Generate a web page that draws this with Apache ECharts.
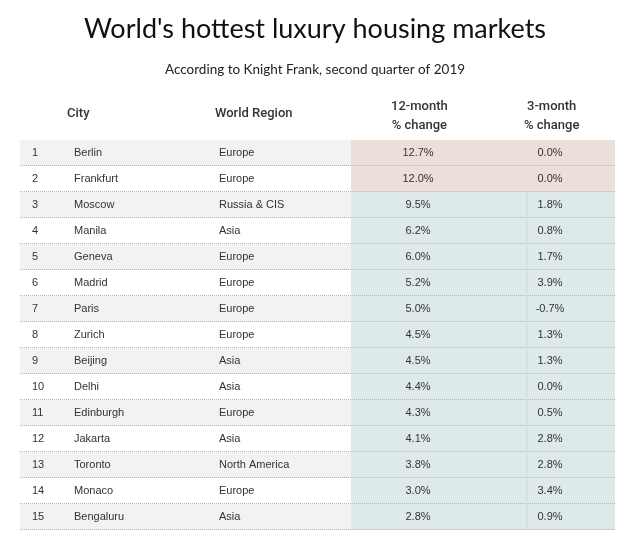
<!DOCTYPE html>
<html>
<head>
<meta charset="utf-8">
<script src="https://cdn.jsdelivr.net/npm/echarts@6/dist/echarts.min.js"></script>
<style>
  html, body { margin: 0; padding: 0; background: #fff; }
  #chart { width: 630px; height: 550px; }
</style>
</head>
<body>
<div id="chart"></div>
<script>
// table data
var ranks = [1, 2, 3, 4, 5, 6, 7, 8, 9, 10, 11, 12, 13, 14, 15];
var cities = ['Berlin', 'Frankfurt', 'Moscow', 'Manila', 'Geneva', 'Madrid', 'Paris', 'Zurich',
  'Beijing', 'Delhi', 'Edinburgh', 'Jakarta', 'Toronto', 'Monaco', 'Bengaluru'];
var regions = ['Europe', 'Europe', 'Russia & CIS', 'Asia', 'Europe', 'Europe', 'Europe', 'Europe',
  'Asia', 'Asia', 'Europe', 'Asia', 'North America', 'Europe', 'Asia'];
var change12 = [12.7, 12.0, 9.5, 6.2, 6.0, 5.2, 5.0, 4.5, 4.5, 4.4, 4.3, 4.1, 3.8, 3.0, 2.8];
var change3 = [0.0, 0.0, 1.8, 0.8, 1.7, 3.9, -0.7, 1.3, 1.3, 0.0, 0.5, 2.8, 2.8, 3.4, 0.9];
var headers = ['City', 'World Region', '12-month\n% change', '3-month\n% change'];

// column layout, pixels from table left edge
var colRank = 12, colCity = 54, colRegion = 199, colA = 331, colB = 507, colEnd = 595;
var textA = 398, textB = 530;

var chart = echarts.init(document.getElementById('chart'));

function fmt(v) { return v.toFixed(1) + '%'; }

function renderRow(params, api) {
  var i = api.value(1);
  var p = api.coord([0, i]);
  var h = api.size([0, 1])[1];
  var x0 = p[0], top = p[1] - h / 2, yc = p[1];
  var hot = change12[i] >= 10;
  var txt = { fill: '#333', fontSize: 11, fontFamily: 'Liberation Sans, Arial, sans-serif', verticalAlign: 'middle' };
  var kids = [
    { type: 'rect', shape: { x: x0, y: top, width: colA, height: h },
      style: { fill: i % 2 === 0 ? '#f2f2f2' : '#ffffff' } },
    { type: 'rect', shape: { x: x0 + colA, y: top, width: colEnd - colA, height: h },
      style: { fill: hot ? '#ecdfd9' : '#dee9ea' } },
    { type: 'line', shape: { x1: x0 + colB, y1: top, x2: x0 + colB, y2: top + h },
      style: { stroke: hot ? 'rgba(0,0,0,0)' : '#cbd7d8', lineWidth: 1 } },
    { type: 'line', shape: { x1: x0, y1: top + h - 0.5, x2: x0 + colEnd, y2: top + h - 0.5 },
      style: { stroke: '#b5b5b5', lineWidth: 1, lineDash: [1, 1] } },
    { type: 'text', style: Object.assign({ x: x0 + colRank, y: yc, text: String(ranks[i]), align: 'left' }, txt) },
    { type: 'text', style: Object.assign({ x: x0 + colCity, y: yc, text: cities[i], align: 'left' }, txt) },
    { type: 'text', style: Object.assign({ x: x0 + colRegion, y: yc, text: regions[i], align: 'left' }, txt) },
    { type: 'text', style: Object.assign({ x: x0 + textA, y: yc, text: fmt(change12[i]), align: 'center' }, txt) },
    { type: 'text', style: Object.assign({ x: x0 + textB, y: yc, text: fmt(change3[i]), align: 'center' }, txt) }
  ];
  return { type: 'group', children: kids };
}

var headStyle = { fill: '#333', fontSize: 13, fontWeight: 500, fontFamily: 'Roboto, sans-serif',
  textAlign: 'center', textVerticalAlign: 'middle', lineHeight: 19 };

var option = {
  animation: false,
  backgroundColor: '#ffffff',
  title: {
    text: "World's hottest luxury housing markets",
    subtext: 'According to Knight Frank, second quarter of 2019',
    left: 'center',
    top: 11,
    itemGap: 20,
    textStyle: { fontSize: 27, fontWeight: 'normal', color: '#111', fontFamily: 'Lato, sans-serif' },
    subtextStyle: { fontSize: 13.5, color: '#222', fontFamily: 'Lato, sans-serif' }
  },
  grid: { left: 20, right: 15, top: 140, bottom: 20 },
  xAxis: { type: 'value', min: 0, max: 1, show: false },
  yAxis: { type: 'category', data: cities, inverse: true, show: false },
  graphic: [
    { type: 'text', left: 80 - 13, top: 104, style: Object.assign({}, headStyle, { text: headers[0] }) },
    { type: 'text', left: 215, top: 104, style: Object.assign({}, headStyle, { text: headers[1] }) },
    { type: 'text', left: 391, top: 97, style: Object.assign({}, headStyle, { text: headers[2] }) },
    { type: 'text', left: 524, top: 97, style: Object.assign({}, headStyle, { text: headers[3] }) }
  ],
  series: [{
    type: 'custom',
    renderItem: renderRow,
    encode: { x: 0, y: 1 },
    data: ranks.map(function (r, i) { return [0, i]; })
  }]
};
chart.setOption(option);
</script>
</body>
</html>
